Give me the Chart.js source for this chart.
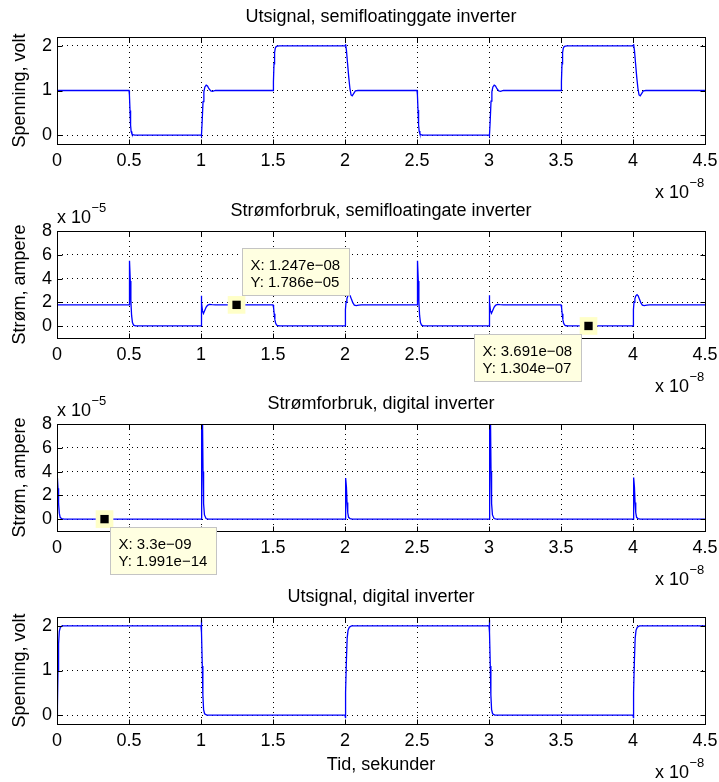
<!DOCTYPE html>
<html lang="no">
<head>
<meta charset="utf-8">
<title>Inverter-simulering</title>
<script src="https://cdn.jsdelivr.net/npm/chart.js@4.4.1/dist/chart.umd.min.js"></script>
<style>
  html, body { margin: 0; padding: 0; background: #fff; }
  body { position: relative; width: 719px; height: 782px; overflow: hidden; }
  canvas { position: absolute; left: 0; }
</style>
</head>
<body>
<canvas id="utSemiChart" width="719" height="202" style="top:0px"></canvas>
<canvas id="semiStromChart" width="719" height="202" style="top:194px"></canvas>
<canvas id="digStromChart" width="719" height="202" style="top:387px"></canvas>
<canvas id="digUtChart" width="719" height="202" style="top:580px"></canvas>
<script>
// Tid i enheter av 1e-8 s, strøm i enheter av 1e-5 A
const TID_SKALA = 1e-8;
const STROM_SKALA = 1e-5;

const tidTicks = [0, 0.5, 1, 1.5, 2, 2.5, 3, 3.5, 4, 4.5];
const spenningTicks = [0, 1, 2];
const stromTicks = [0, 2, 4, 6, 8];

// Utsignal, semifloatinggate inverter
const utSemiTid = [0, 0.5, 0.503, 0.507, 0.511, 0.515, 0.52, 0.527, 0.54,
  1.0, 1.003, 1.008, 1.014, 1.02, 1.027, 1.036, 1.045, 1.055, 1.068, 1.08, 1.1,
  1.5, 1.503, 1.507, 1.511, 1.516, 1.522, 1.53, 1.545,
  2.0, 2.004, 2.01, 2.018, 2.026, 2.034, 2.042, 2.05, 2.06, 2.072, 2.09,
  2.5, 2.503, 2.507, 2.511, 2.515, 2.52, 2.527, 2.54,
  3.0, 3.003, 3.008, 3.014, 3.02, 3.027, 3.036, 3.045, 3.055, 3.068, 3.08, 3.1,
  3.5, 3.503, 3.507, 3.511, 3.516, 3.522, 3.53, 3.545,
  4.0, 4.004, 4.01, 4.018, 4.026, 4.034, 4.042, 4.05, 4.06, 4.072, 4.09, 4.5];
const utSemiVolt = [1, 1, 0.9, 0.55, 0.22, 0.08, 0.03, 0.01, 0,
  0, -0.02, 0.3, 0.75, 0.97, 1.08, 1.12, 1.1, 1.04, 0.99, 0.98, 1,
  1, 1.2, 1.6, 1.85, 1.95, 1.985, 1.995, 2,
  2, 2.04, 1.9, 1.6, 1.3, 1.05, 0.9, 0.88, 0.93, 0.99, 1,
  1, 0.9, 0.56, 0.23, 0.09, 0.03, 0.01, 0,
  0, -0.02, 0.3, 0.76, 0.97, 1.08, 1.12, 1.1, 1.04, 0.99, 0.98, 1,
  1, 1.2, 1.6, 1.85, 1.95, 1.985, 1.995, 2,
  2, 2.04, 1.9, 1.6, 1.3, 1.05, 0.9, 0.88, 0.93, 0.99, 1, 1];

// Strømforbruk, semifloatinggate inverter
const semiStromTid = [0, 0.5, 0.502, 0.505, 0.509, 0.513, 0.518, 0.524, 0.532, 0.545,
  1.0, 1.002, 1.005, 1.01, 1.017, 1.025, 1.035, 1.045, 1.058, 1.075, 1.1,
  1.5, 1.504, 1.508, 1.513, 1.518, 1.525, 1.535, 1.55,
  2.0, 2.003, 2.007, 2.013, 2.02, 2.028, 2.036, 2.045, 2.055, 2.065, 2.078, 2.095, 2.115,
  2.5, 2.502, 2.505, 2.509, 2.513, 2.518, 2.524, 2.532, 2.545,
  3.0, 3.002, 3.005, 3.01, 3.017, 3.025, 3.035, 3.045, 3.058, 3.075, 3.1,
  3.5, 3.504, 3.508, 3.513, 3.518, 3.525, 3.535, 3.55,
  4.0, 4.003, 4.007, 4.013, 4.02, 4.028, 4.036, 4.045, 4.055, 4.065, 4.078, 4.095, 4.115, 4.5];
const semiStromVerdi = [1.786, 1.786, 4.6, 5.5, 3.8, 2.1, 0.9, 0.3, 0.08, 0.013,
  0.013, 2.55, 2.0, 1.3, 1.06, 1.3, 1.58, 1.75, 1.82, 1.8, 1.786,
  1.786, 1.55, 1.05, 0.55, 0.25, 0.09, 0.03, 0.013,
  0.013, 1.4, 2.0, 2.3, 2.55, 2.65, 2.55, 2.25, 1.95, 1.76, 1.72, 1.77, 1.786,
  1.786, 4.5, 5.5, 3.8, 2.1, 0.9, 0.3, 0.08, 0.013,
  0.013, 2.6, 2.0, 1.3, 1.08, 1.3, 1.58, 1.75, 1.82, 1.8, 1.786,
  1.786, 1.55, 1.05, 0.55, 0.25, 0.09, 0.03, 0.013,
  0.013, 1.4, 2.0, 2.3, 2.55, 2.65, 2.55, 2.25, 1.95, 1.76, 1.72, 1.77, 1.786, 1.786];

// Strømforbruk, digital inverter
const digStromTid = [0, 0.003, 0.007, 0.011, 0.016, 0.022, 0.032, 0.05,
  1.0, 1.003, 1.006, 1.01, 1.014, 1.018, 1.024, 1.035, 1.05,
  2.0, 2.003, 2.006, 2.01, 2.014, 2.019, 2.025, 2.035, 2.05,
  3.0, 3.003, 3.006, 3.01, 3.014, 3.018, 3.024, 3.035, 3.05,
  4.0, 4.003, 4.006, 4.01, 4.014, 4.019, 4.025, 4.035, 4.05, 4.5];
const digStromVerdi = [3.3, 3.45, 2.6, 1.3, 0.5, 0.15, 0.03, 0,
  0, 6, 10.5, 9, 4, 1.3, 0.35, 0.05, 0,
  0, 2.3, 3.45, 2.7, 1.4, 0.55, 0.15, 0.03, 0,
  0, 6, 10.5, 9, 4, 1.3, 0.35, 0.05, 0,
  0, 2.4, 3.5, 2.7, 1.4, 0.55, 0.15, 0.03, 0, 0];

// Utsignal, digital inverter
const digUtTid = [0, 0.003, 0.007, 0.011, 0.016, 0.023, 0.035,
  1.0, 1.002, 1.005, 1.009, 1.013, 1.018, 1.025, 1.04,
  2.0, 2.002, 2.006, 2.01, 2.015, 2.021, 2.03, 2.045,
  3.0, 3.002, 3.005, 3.009, 3.013, 3.018, 3.025, 3.04,
  4.0, 4.002, 4.006, 4.01, 4.015, 4.021, 4.03, 4.045, 4.5];
const digUtVolt = [0, 0.2, 1.0, 1.6, 1.88, 1.97, 2,
  2, 2.14, 1.85, 1.1, 0.45, 0.12, 0.03, 0,
  0, -0.07, 0.5, 1.25, 1.72, 1.9, 1.97, 2,
  2, 2.14, 1.85, 1.1, 0.45, 0.12, 0.03, 0,
  0, -0.07, 0.5, 1.25, 1.72, 1.9, 1.97, 2, 2];

// Datatips
const semiTipTid = [1.247, 3.691];
const semiTipStrom = [1.786, 0.01304];
const digTipTid = [0.33];
const digTipStrom = [1.991e-9];

const FONT = "'Liberation Sans', Arial, Helvetica, sans-serif";
Chart.defaults.font.family = FONT;
Chart.defaults.font.size = 18;
Chart.defaults.color = '#000';

function toPoints(xs, ys) {
    return xs.map((x, i) => ({ x: x, y: ys[i] }));
}

// 1.247e-08 style, like the MATLAB data cursor
function sciLabel(v) {
    const parts = v.toExponential(3).split('e');
    const exp = parseInt(parts[1], 10);
    const sign = exp < 0 ? '\u2212' : '+';
    return parseFloat(parts[0]) + 'e' + sign + String(Math.abs(exp)).padStart(2, '0');
}

function drawPower(ctx, x0, base, exp) {
    ctx.font = '18px ' + FONT;
    ctx.fillText('x 10', x0, base);
    const w = ctx.measureText('x 10').width;
    ctx.font = '13px ' + FONT;
    ctx.fillText(exp, x0 + w + 0.5, base - 11);
}

function drawTip(ctx, xs, ys, tip) {
    const px = xs.getPixelForValue(tip.x);
    const py = ys.getPixelForValue(tip.y);
    const lines = ['X: ' + sciLabel(tip.x * TID_SKALA), 'Y: ' + sciLabel(tip.y * STROM_SKALA)];
    ctx.font = '15px ' + FONT;
    const w = Math.round(Math.max(...lines.map(l => ctx.measureText(l).width)) + 17);
    const h = 47;
    let bx, by;
    if (tip.place === 'ne') { bx = px + 5.5; by = py - 10 - h; }
    else if (tip.place === 'sw') { bx = px - 8 - w; by = py + 8; }
    else { bx = px + 5.5; by = py + 8; }
    bx = Math.round(bx) + 0.5;
    by = Math.round(by) + 0.5;
    ctx.fillStyle = '#ffffe1';
    ctx.strokeStyle = '#c4c4c4';
    ctx.lineWidth = 1;
    ctx.fillRect(bx, by, w, h);
    ctx.strokeRect(bx, by, w, h);
    ctx.fillStyle = '#000';
    ctx.textAlign = 'left';
    ctx.textBaseline = 'middle';
    ctx.fillText(lines[0], bx + 8, by + 17);
    ctx.fillText(lines[1], bx + 8, by + 34.5);
}

// Box, inward tick marks, exponent labels and data tips
const matlabAxes = {
    id: 'matlabAxes',
    afterDatasetsDraw(chart, args, opts) {
        const { ctx, chartArea: a, scales: { x, y } } = chart;
        const L = Math.floor(a.left) + 0.5, R = Math.floor(a.right) + 0.5;
        const T = Math.floor(a.top) + 0.5, B = Math.floor(a.bottom) + 0.5;
        ctx.save();
        ctx.strokeStyle = '#000';
        ctx.lineWidth = 1;
        ctx.beginPath();
        x.ticks.forEach(t => {
            const px = Math.round(x.getPixelForValue(t.value)) + 0.5;
            ctx.moveTo(px, B); ctx.lineTo(px, B - 5);
            ctx.moveTo(px, T); ctx.lineTo(px, T + 5);
        });
        y.ticks.forEach(t => {
            const py = Math.round(y.getPixelForValue(t.value)) + 0.5;
            ctx.moveTo(L, py); ctx.lineTo(L + 5, py);
            ctx.moveTo(R, py); ctx.lineTo(R - 5, py);
        });
        ctx.stroke();
        ctx.strokeRect(L, T, R - L, B - T);
        ctx.restore();
    },
    afterDraw(chart, args, opts) {
        const { ctx, chartArea: a, scales: { x, y } } = chart;
        ctx.save();
        ctx.fillStyle = '#000';
        ctx.textAlign = 'left';
        ctx.textBaseline = 'alphabetic';
        if (opts.xExp) drawPower(ctx, a.right - 50, a.bottom + 54, opts.xExp);
        if (opts.yExp) drawPower(ctx, a.left, a.top - 8, opts.yExp);
        (opts.tips || []).forEach(tip => drawTip(ctx, x, y, tip));
        ctx.restore();
    }
};

function xAxis(title) {
    return {
        type: 'linear',
        min: 0,
        max: 4.5,
        afterBuildTicks: s => { s.ticks = tidTicks.map(v => ({ value: v })); },
        afterFit: s => { s.height = 58; s.paddingLeft = 0; s.paddingRight = 0; },
        ticks: { padding: 6, maxRotation: 0, autoSkip: false, callback: v => String(v) },
        grid: { color: '#000', lineWidth: 1, drawTicks: false },
        border: { display: false, dash: [1, 4] },
        title: { display: !!title, text: title || '', padding: { top: 0, bottom: 6.4 } }
    };
}

function yAxis(min, max, ticks, title) {
    return {
        min: min,
        max: max,
        afterBuildTicks: s => { s.ticks = ticks.map(v => ({ value: v })); },
        afterFit: s => { s.width = 57; s.paddingTop = 0; s.paddingBottom = 0; },
        ticks: { padding: 5, callback: v => String(v) },
        grid: { color: '#000', lineWidth: 1, drawTicks: false },
        border: { display: false, dash: [1, 4] },
        title: { display: true, text: title, padding: { top: 9.5, bottom: 0 } }
    };
}

function signal(xs, ys) {
    return {
        data: toPoints(xs, ys),
        borderColor: '#0000ff',
        borderWidth: 1.3,
        pointRadius: 0,
        fill: false,
        order: 2
    };
}

// data cursor marker: black square on a pale halo
function markers(xs, ys) {
    const pts = toPoints(xs, ys);
    return [
        { data: pts, showLine: false, pointStyle: 'rect', pointRadius: 5.9,
          backgroundColor: '#000', borderWidth: 0, order: 0 },
        { data: pts, showLine: false, pointStyle: 'rect', pointRadius: 12.5,
          backgroundColor: '#ffffc8', borderWidth: 0, order: 1 }
    ];
}

function makePanel(id, title, datasets, y, extra, xTitle) {
    const ctx = document.getElementById(id);
    return new Chart(ctx, {
        type: 'line',
        data: { datasets: datasets },
        options: {
            responsive: false,
            animation: false,
            events: [],
            layout: { padding: { left: 0, right: 14, top: 0, bottom: 0 } },
            plugins: {
                legend: { display: false },
                tooltip: { enabled: false },
                title: {
                    display: true,
                    text: title,
                    fullSize: false,
                    font: { size: 18, weight: 'normal' },
                    padding: { top: 6.2, bottom: 9.2 }
                },
                matlabAxes: extra
            },
            scales: { x: xAxis(xTitle), y: y }
        },
        plugins: [matlabAxes]
    });
}

function tipsFrom(xs, ys, places) {
    return xs.map((x, i) => ({ x: x, y: ys[i], place: places[i] }));
}

makePanel('utSemiChart', 'Utsignal, semifloatinggate inverter',
    [signal(utSemiTid, utSemiVolt)],
    yAxis(-0.2, 2.2, spenningTicks, 'Spenning, volt'),
    { xExp: '\u22128' });

makePanel('semiStromChart', 'Strømforbruk, semifloatingate inverter',
    [signal(semiStromTid, semiStromVerdi)].concat(markers(semiTipTid, semiTipStrom)),
    yAxis(-1, 8, stromTicks, 'Strøm, ampere'),
    { xExp: '\u22128', yExp: '\u22125', tips: tipsFrom(semiTipTid, semiTipStrom, ['ne', 'sw']) });

makePanel('digStromChart', 'Strømforbruk, digital inverter',
    [signal(digStromTid, digStromVerdi)].concat(markers(digTipTid, digTipStrom)),
    yAxis(-1, 8, stromTicks, 'Strøm, ampere'),
    { xExp: '\u22128', yExp: '\u22125', tips: tipsFrom(digTipTid, digTipStrom, ['se']) });

makePanel('digUtChart', 'Utsignal, digital inverter',
    [signal(digUtTid, digUtVolt)],
    yAxis(-0.2, 2.2, spenningTicks, 'Spenning, volt'),
    { xExp: '\u22128' }, 'Tid, sekunder');
</script>
</body>
</html>
